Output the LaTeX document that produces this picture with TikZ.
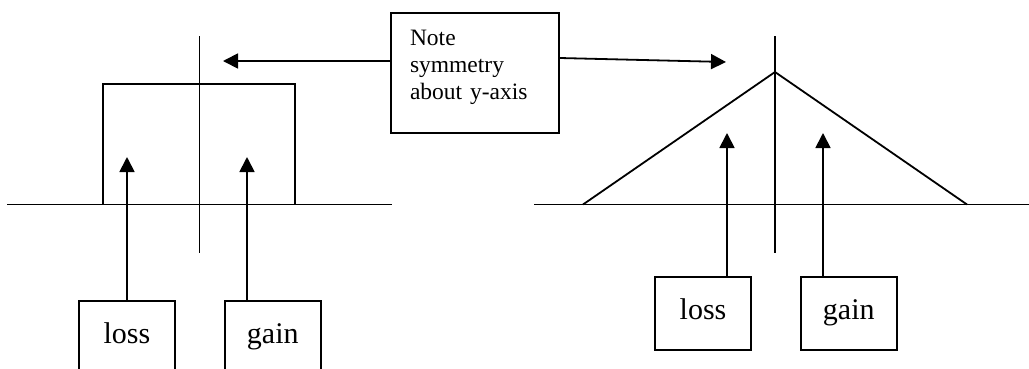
\documentclass[tikz,border=0pt]{standalone}
\usepackage{fontspec}
\setmainfont{Liberation Serif}
\usetikzlibrary{arrows.meta,positioning}

\begin{document}
\begin{tikzpicture}[x=1pt,y=-1pt,line width=1.8pt,>={Triangle[length=15pt,width=15pt]},
	tag/.style={draw,line width=1.8pt,font=\fontsize{30}{30}\selectfont,minimum width=96pt,
		text height=20pt,text depth=7pt,inner ysep=23pt,anchor=north},
	note/.style={draw,line width=1.8pt,font=\fontsize{23.5}{27}\selectfont,text width=130pt,
		align=left,minimum width=168pt,minimum height=120pt,text height=16pt,text depth=72pt}]
	\clip (0,0) rectangle (1029,368);

	% left: box function
	\draw (7,204.5) -- (392,204.5);
	\draw (199.5,36) -- (199.5,253);
	\draw (103,204.5) rectangle (295,84);

	% right: triangle function
	\draw (534,204.5) -- (1029,204.5);
	\draw (775,36) -- (775,253);
	\draw (583,204.5) -- (775,72) -- (967,204.5);

	\node[note] (nt) at (475,73) {Note\\ symmetry\\ about y-axis};

	\node[tag] (lossL) at (127,300) {loss};
	\node[tag] (gainL) [right=48pt of lossL] {gain};
	\node[tag] (lossR) at (703,276) {loss};
	\node[tag] (gainR) [right=48pt of lossR] {gain};

	\coordinate (tl) at (223,61);
	\coordinate (tr) at (726,62);
	\coordinate (aL) at (127,157);
	\coordinate (bL) at (247,157);
	\coordinate (aR) at (727,133);
	\coordinate (bR) at (823,133);

	\path[->]
	(nt.west |- tl) edge (tl)
	([yshift=15pt]nt.east) edge (tr)

	(lossL.north -| aL) edge (aL)
	(gainL.north -| bL) edge (bL)

	(lossR.north -| aR) edge (aR)
	(gainR.north -| bR) edge (bR)
	;
\end{tikzpicture}
\end{document}
